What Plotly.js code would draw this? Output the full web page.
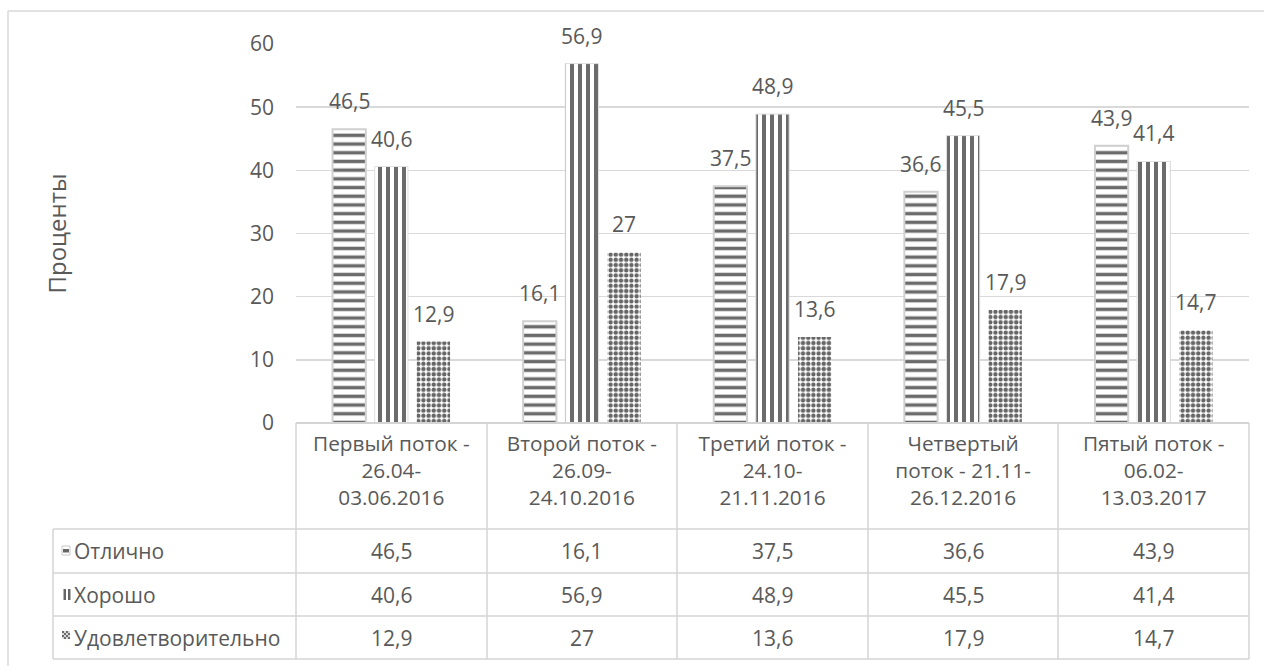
<!DOCTYPE html>
<html>
<head>
<meta charset="utf-8">
<script src="https://cdn.plot.ly/plotly-3.0.1.min.js"></script>
<style>html,body{margin:0;padding:0;background:#fff;}#chart{width:1264px;height:666px;}</style>
</head>
<body>
<div id="chart"></div>
<script>
// ---- data ----
var categories = ["Первый поток", "Второй поток", "Третий поток", "Четвертый поток", "Пятый поток"];
var tickLabels = [
  "Первый поток -<br>26.04-<br>03.06.2016",
  "Второй поток -<br>26.09-<br>24.10.2016",
  "Третий поток -<br>24.10-<br>21.11.2016",
  "Четвертый<br>поток - 21.11-<br>26.12.2016",
  "Пятый поток -<br>06.02-<br>13.03.2017"
];
var seriesNames = ["Отлично", "Хорошо", "Удовлетворительно"];
var otlichno = [46.5, 16.1, 37.5, 36.6, 43.9];
var horosho = [40.6, 56.9, 48.9, 45.5, 41.4];
var udovl = [12.9, 27, 13.6, 17.9, 14.7];
var yTicks = [0, 10, 20, 30, 40, 50, 60];
var yTitle = "Проценты";

// ---- styling / geometry ----
var TXT = "#595959";
var FONT = "Open Sans, Noto Sans, sans-serif";
var FS = 21;
var GRID = "#d9d9d9";
var L = 296, R = 1249, T = 44, B = 423;
var W = R - L, H = B - T;
function px(x) { return (x - L) / W; }
function py(y) { return (B - y) / H; }
function fmt(v) { return String(v).replace('.', ','); }

var bargap = 0.337, bargroupgap = 0.21;
var slotPx = (1 - bargap) * (W / categories.length) / 3;

var allSeries = [otlichno, horosho, udovl];
var patterns = [
  {shape: "-", size: 8.7, solidity: 0.4, fgcolor: "#6b6b6b", bgcolor: "#ffffff"},
  {shape: "|", size: 8, solidity: 0.5, fgcolor: "#6b6b6b", bgcolor: "#ffffff"},
  {shape: ".", size: 5.2, solidity: 0.55, fgcolor: "#666666", bgcolor: "#ffffff"}
];
var lines = [
  {color: "#d0d0d0", width: 2},
  {color: "#e0e0e0", width: 1},
  {color: "#ffffff", width: 0}
];

var traces = allSeries.map(function (vals, i) {
  return {
    type: "bar",
    name: seriesNames[i],
    x: categories,
    y: vals,
    marker: {color: "#ffffff", pattern: patterns[i], line: lines[i]},
    hoverinfo: "x+y+name"
  };
});

var annotations = [];
// bar value labels
allSeries.forEach(function (vals, i) {
  vals.forEach(function (v, j) {
    annotations.push({
      xref: "x", yref: "y", x: categories[j], y: v,
      xshift: (i - 1) * slotPx, yshift: 28,
      text: fmt(v), showarrow: false, xanchor: "center", yanchor: "middle",
      font: {family: FONT, size: FS, color: TXT}
    });
  });
});

// table
var rowLines = [529, 573, 616, 659];
var colLines = [296, 487, 677, 868, 1058, 1249];
var rowCenters = [551, 594.5, 637.5];
allSeries.forEach(function (vals, i) {
  annotations.push({
    xref: "paper", yref: "paper", x: px(72), y: py(rowCenters[i]),
    text: seriesNames[i], showarrow: false, xanchor: "left", yanchor: "middle",
    font: {family: FONT, size: FS, color: TXT}
  });
  vals.forEach(function (v, j) {
    annotations.push({
      xref: "x", yref: "paper", x: categories[j], y: py(rowCenters[i]),
      text: fmt(v), showarrow: false, xanchor: "center", yanchor: "middle",
      font: {family: FONT, size: FS, color: TXT}
    });
  });
});

var shapes = [];
function ln(x0, y0, x1, y1, c, w) {
  shapes.push({type: "line", xref: "paper", yref: "paper", x0: px(x0), y0: py(y0), x1: px(x1), y1: py(y1),
    line: {color: c || "#d4d4d4", width: w || 1.5}});
}
function rc(x0, y0, x1, y1, fill, lc, lw) {
  shapes.push({type: "rect", xref: "paper", yref: "paper", x0: px(x0), y0: py(y0), x1: px(x1), y1: py(y1),
    fillcolor: fill, line: {color: lc || fill, width: lw || 0}});
}
// outer chart border
ln(8, 11, 8, 666, "#d9d9d9", 1.5);
ln(8, 11, 1264, 11, "#d9d9d9", 1.5);
// table grid
ln(L, B, R, B, "#d4d4d4", 2);
colLines.forEach(function (x) { ln(x, B, x, rowLines[rowLines.length - 1]); });
ln(53, rowLines[0], 53, rowLines[rowLines.length - 1]);
rowLines.forEach(function (y) { ln(53, y, R, y); });
// legend keys
rc(62, 546, 70, 555, "#ffffff", "#c8c8c8", 1);
rc(63, 549, 69, 552.5, "#666666");
rc(63.5, 589, 66, 600, "#666666");
rc(68, 589, 70.5, 600, "#666666");
for (var r = 0; r < 4; r++) {
  for (var c = 0; c < 4; c++) {
    rc(62 + c * 2, 631 + r * 2, 64 + c * 2, 633 + r * 2, ((r + c) % 2 === 0) ? "#6b6b6b" : "#d8d8d8");
  }
}

var layout = {
  width: 1264, height: 666,
  margin: {l: L, r: 1264 - R, t: T, b: 666 - B, pad: 0},
  paper_bgcolor: "#ffffff", plot_bgcolor: "#ffffff",
  barmode: "group", bargap: bargap, bargroupgap: bargroupgap,
  showlegend: false,
  font: {family: FONT, size: FS, color: TXT},
  xaxis: {
    type: "category", tickvals: categories, ticktext: tickLabels,
    showgrid: false, showline: false, zeroline: false, ticks: "",
    tickfont: {family: FONT, size: 20.8, color: TXT}, automargin: false,
    ticklabelstandoff: 6
  },
  yaxis: {
    range: [0, 60], tickvals: yTicks, ticktext: yTicks.map(String),
    showgrid: true, gridcolor: GRID, gridwidth: 1.5, zeroline: false, showline: false,
    ticks: "", ticklabelstandoff: 21, automargin: false,
    tickfont: {family: FONT, size: FS, color: TXT},
    title: {text: yTitle, standoff: 176, font: {family: FONT, size: 24, color: TXT}}
  },
  annotations: annotations,
  shapes: shapes
};

Plotly.newPlot("chart", traces, layout, {displayModeBar: false, staticPlot: true});
</script>
</body>
</html>
